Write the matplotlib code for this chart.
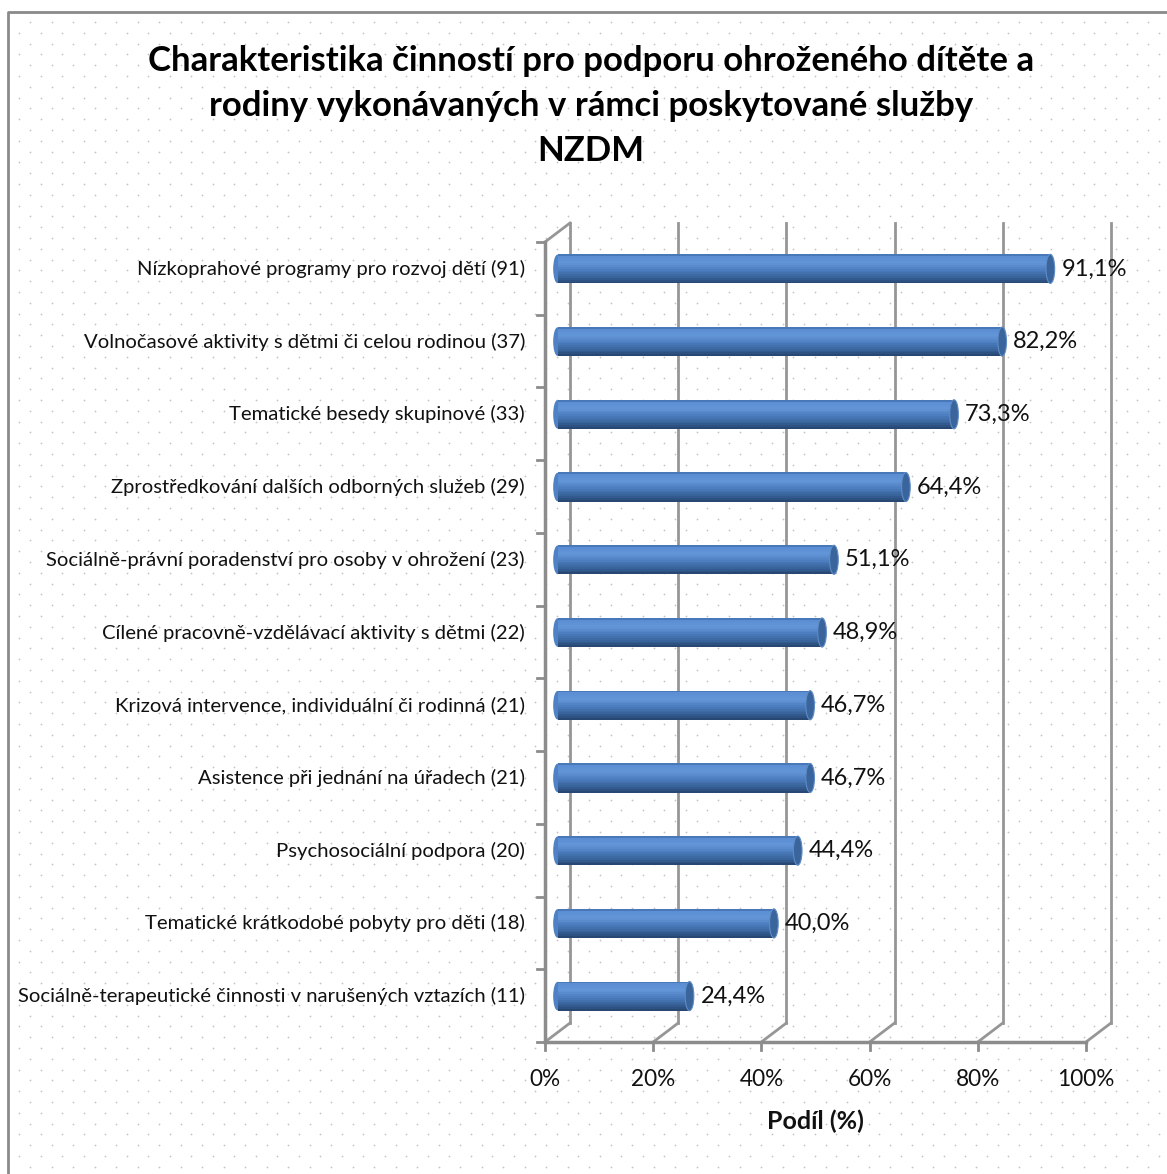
import matplotlib
matplotlib.use("Agg")
import matplotlib.pyplot as plt
import matplotlib.transforms as mtransforms
from matplotlib.patches import Ellipse
import numpy as np

# data
categories = [
    "Nízkoprahové programy pro rozvoj dětí (91)",
    "Volnočasové aktivity s dětmi či celou rodinou (37)",
    "Tematické besedy skupinové (33)",
    "Zprostředkování dalších odborných služeb (29)",
    "Sociálně-právní poradenství pro osoby v ohrožení (23)",
    "Cílené pracovně-vzdělávací aktivity s dětmi (22)",
    "Krizová intervence, individuální či rodinná (21)",
    "Asistence při jednání na úřadech (21)",
    "Psychosociální podpora (20)",
    "Tematické krátkodobé pobyty pro děti (18)",
    "Sociálně-terapeutické činnosti v narušených vztazích (11)",
]
values = [91.1, 82.2, 73.3, 64.4, 51.1, 48.9, 46.7, 46.7, 44.4, 40.0, 24.4]
xticks = [0, 20, 40, 60, 80, 100]
title = ("Charakteristika činností pro podporu ohroženého dítěte a\n"
         "rodiny vykonávaných v rámci poskytované služby\nNZDM")
xlabel = "Podíl (%)"

FONT = "Lato"
W, H = 1167, 1174
fig = plt.figure(figsize=(W / 100, H / 100), dpi=100)

# background with dots and border
bg = fig.add_axes([0, 0, 1, 1], zorder=0)
bg.set_xlim(0, W)
bg.set_ylim(H, 0)
bg.axis("off")
dx, dy = 21.5, 10.8
pts = []
row = 0
yy = 22
while yy < H:
    xs = np.arange(30 - (row % 2) * 10.75, W, dx)
    xs = xs[xs > 12]
    pts.append(np.column_stack([xs, np.full(len(xs), yy)]))
    yy += dy
    row += 1
pts = np.vstack(pts)
bg.scatter(pts[:, 0], pts[:, 1], s=1.6, color="#c4c4c4", linewidths=0)
bg.plot([8, 8, W + 5], [H + 5, 12, 12], color="#8a8a8a", lw=2)

# main axes = front plane
L, R, T, B = 545, 1086, 242, 1042
ax = fig.add_axes([L / W, 1 - B / H, (R - L) / W, (B - T) / H], zorder=1)
ax.set_xlim(0, 100)
n = len(categories)
ax.set_ylim(n - 0.5, -0.5)
ax.axis("off")
ax.patch.set_alpha(0)

DX, DY = 25, 19
back = mtransforms.offset_copy(ax.transData, fig=fig, x=DX, y=DY, units="dots")
mid = mtransforms.offset_copy(ax.transData, fig=fig, x=DX / 2, y=DY / 2, units="dots")

gcol = "#969696"
top, bot = -0.5, n - 0.5
# back wall gridlines
for t in xticks:
    ax.plot([t, t], [top, bot], color=gcol, lw=2, transform=back, clip_on=False, zorder=1)
    # floor diagonals
    ax.plot([t, t + DX / 5.41], [bot, bot - DY / (800 / n)], color=gcol, lw=2,
            clip_on=False, zorder=1)
# left wall top diagonal
ax.plot([0, DX / 5.41], [top, top - DY / (800 / n)], color=gcol, lw=2, clip_on=False, zorder=1)
# front axes
ax.plot([0, 0], [top, bot], color="#8c8c8c", lw=2.5, clip_on=False, zorder=2)
ax.plot([0, 100], [bot, bot], color="#8c8c8c", lw=2.5, clip_on=False, zorder=2)
for k in range(n + 1):
    ax.plot([0, -8 / 5.41], [k - 0.5, k - 0.5], color="#8c8c8c", lw=2, clip_on=False, zorder=2)
for t in xticks:
    ax.plot([t, t], [bot, bot + 8 / (800 / n)], color="#8c8c8c", lw=2, clip_on=False, zorder=2)
    ax.annotate(f"{t}%", xy=(t, bot), xytext=(0, -38), textcoords="offset pixels",
                ha="center", va="center", fontsize=16.3, family=FONT, color="#111111")

# cylinder bars as stacked strips
bh = 0.4
ypos = np.arange(n)
anchors = np.array([0.0, 0.08, 0.3, 0.55, 0.8, 1.0])
cols = np.array([[0x3d, 0x6a, 0xa6], [0x5a, 0x8d, 0xd2], [0x63, 0x96, 0xd8],
                 [0x4b, 0x7c, 0xbe], [0x37, 0x61, 0x98], [0x25, 0x43, 0x6c]]) / 255
ns = 16
for s in range(ns):
    f = (s + 0.5) / ns
    c = [np.interp(f, anchors, cols[:, j]) for j in range(3)]
    ax.barh(ypos - bh / 2 + (s + 0.5) * bh / ns, values, height=bh / ns * 1.05,
            color=c, transform=mid, zorder=3, linewidth=0)
for i, v in enumerate(values):
    ax.add_patch(Ellipse((v, i), 1.6, bh, facecolor="#3a659c", edgecolor="#5f8cc6",
                         lw=0.8, transform=mid, zorder=4))
    ax.add_patch(Ellipse((0, i), 1.6, bh * 0.98, facecolor="#4f82c4", lw=0,
                         transform=mid, zorder=2.5))
    ax.annotate(f"{v:.1f}%".replace(".", ","), xy=(v, i), xycoords=mid,
                xytext=(11, 0), textcoords="offset pixels", ha="left", va="center",
                fontsize=17, family=FONT, color="#111111", zorder=5)
    ax.annotate(categories[i], xy=(0, i), xycoords=mid, xytext=(-32.5, 0),
                textcoords="offset pixels", ha="right", va="center",
                fontsize=14.6, family=FONT, color="#111111")

fig.text(591 / W, 1 - 106 / H, title, ha="center", va="center", fontsize=25,
         fontweight="bold", family=FONT, linespacing=1.5, color="#000000")
fig.text(815 / W, 1 - 1121 / H, xlabel, ha="center", va="center", fontsize=18,
         fontweight="bold", family=FONT, color="#111111")

fig.savefig("out.png", dpi=100)
